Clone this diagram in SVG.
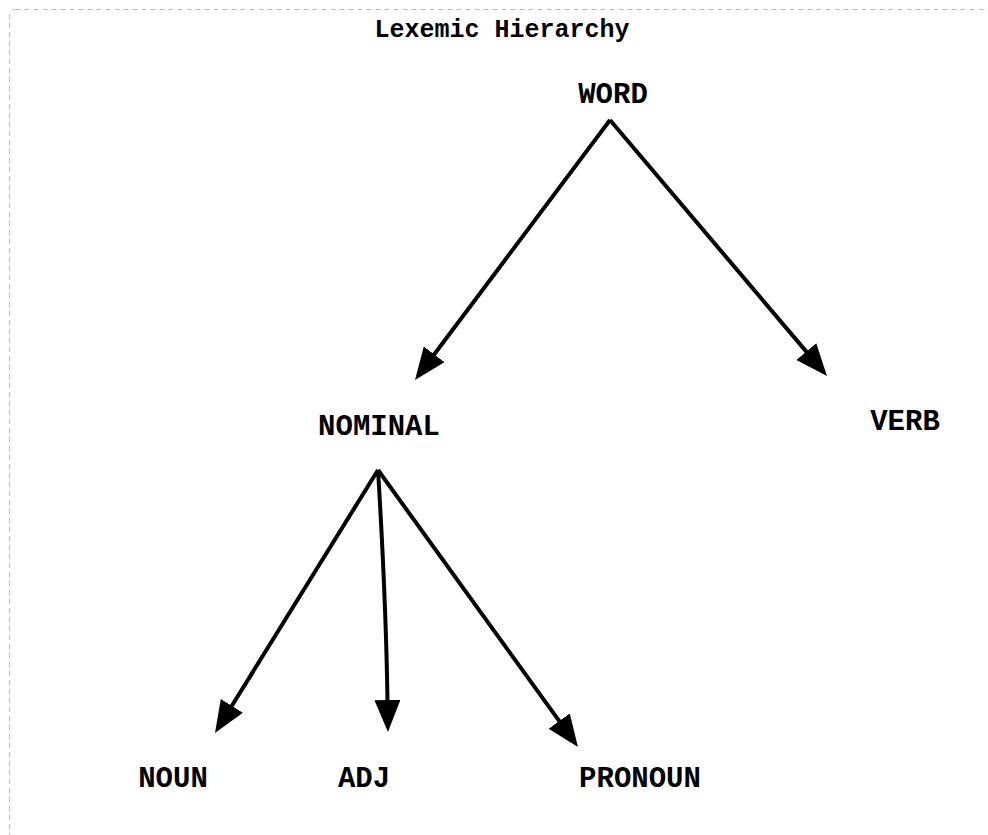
<svg xmlns="http://www.w3.org/2000/svg" width="988" height="835" viewBox="0 0 988 835">
<style>
.lbl{font-family:"Liberation Mono","Courier New",monospace;font-weight:bold;font-size:29px;fill:#000;text-anchor:middle}
.title{font-family:"Liberation Mono","Courier New",monospace;font-weight:bold;font-size:25px;fill:#000;text-anchor:middle}
.edge{fill:none;stroke:#000;stroke-width:4}
</style>
<defs>
<marker id="ah" markerUnits="userSpaceOnUse" markerWidth="34" markerHeight="28" refX="2" refY="13" orient="auto">
<path d="M0,0 L32,13 L0,26 Z" fill="#000"/>
</marker>
</defs>
<rect x="9.5" y="9.5" width="990" height="840" rx="6" fill="#fff" stroke="#bbb" stroke-width="1" stroke-dasharray="5,4"/>
<text class="title" x="502" y="37">Lexemic Hierarchy</text>
<g id="edges">
<path class="edge" d="M610,120 L433,356" marker-end="url(#ah)"/>
<path class="edge" d="M610,120 L807.6,353.1" marker-end="url(#ah)"/>
<path class="edge" d="M378,470 L230.8,707.5" marker-end="url(#ah)"/>
<path class="edge" d="M378,470 Q386,600 387.5,702" marker-end="url(#ah)"/>
<path class="edge" d="M378,470 L560.4,722.7" marker-end="url(#ah)"/>
</g>
<g id="word"><text class="lbl" x="613" y="103">WORD</text></g>
<g id="nominal"><text class="lbl" x="379" y="435">NOMINAL</text></g>
<g id="verb"><text class="lbl" x="905" y="430">VERB</text></g>
<g id="noun"><text class="lbl" x="173" y="787">NOUN</text></g>
<g id="adj"><text class="lbl" x="364" y="787">ADJ</text></g>
<g id="pronoun"><text class="lbl" x="640" y="787">PRONOUN</text></g>
</svg>
